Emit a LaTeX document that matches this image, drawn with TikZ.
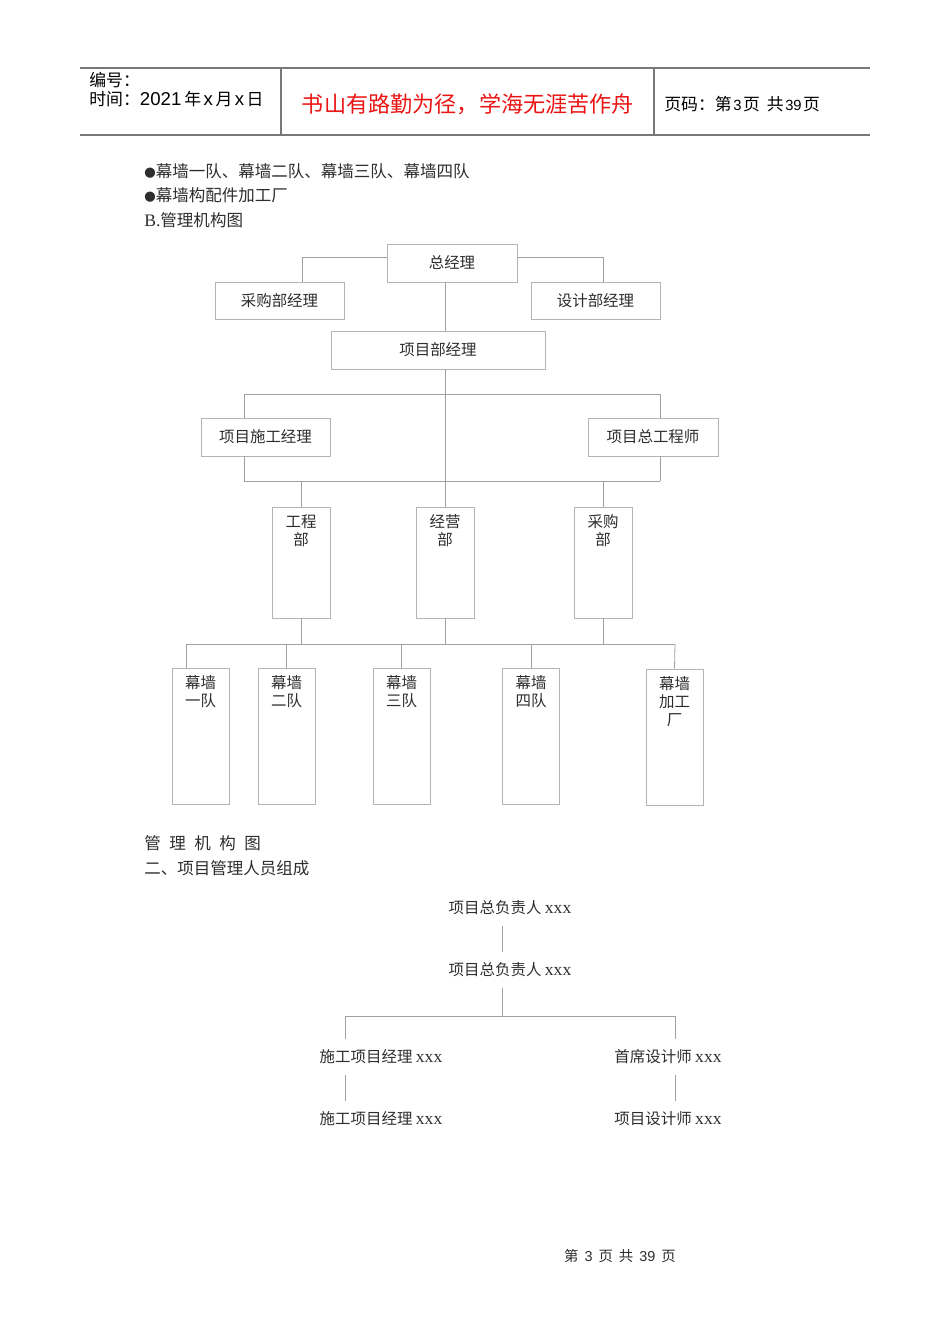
\documentclass[tikz,border=0pt]{standalone}
\usepackage{fontspec}
\setmainfont{Noto Sans CJK SC}
\newfontfamily\latserif{Liberation Serif}
\newfontfamily\latsans{Liberation Sans}
\definecolor{boxgray}{RGB}{180,180,180}
\definecolor{linegray}{RGB}{160,160,160}
\definecolor{rulegray}{RGB}{120,120,120}
\definecolor{txtgray}{RGB}{45,45,45}
\definecolor{mottored}{RGB}{235,20,20}
\newcommand{\blt}{{\fontsize{6.5}{7}\selectfont ●}}
\usetikzlibrary{positioning}

\begin{document}
\begin{tikzpicture}[x=0.02cm,y=-0.02cm,
  box/.style={draw=boxgray,line width=0.45pt,align=center,inner sep=0pt,
              text=txtgray,font=\fontsize{8.8}{10.4}\selectfont},
  tallbox/.style={box,minimum width=1.16cm,minimum height=2.22cm},
  teambox/.style={box,minimum width=1.14cm,minimum height=2.72cm},
  toplbl/.style={anchor=north,inner sep=0pt,yshift=-0.15cm,align=center,
                 text=txtgray,font=\fontsize{8.8}{10.2}\selectfont},
  link/.style={draw=linegray,line width=0.45pt},
  plain/.style={inner sep=0pt,outer sep=0.22cm,text=txtgray,
                font=\fontsize{8.8}{10}\selectfont},
  bodytxt/.style={anchor=west,inner sep=0pt,text=txtgray,
                  font=\fontsize{9.4}{11}\selectfont},
  headtxt/.style={anchor=west,inner sep=0pt,font=\fontsize{9.6}{11}\selectfont}]
  \useasboundingbox (0,0) rectangle (950,1344);
  %% Header
  \draw[rulegray,line width=0.6pt] (80,68) -- (870,68);
  \draw[rulegray,line width=1.4pt] (80,135) -- (870,135);
  \draw[rulegray,line width=0.6pt] (281,68) -- (281,135);
  \draw[rulegray,line width=0.6pt] (654,68) -- (654,135);
  \node[headtxt] (hno) at (89,80) {编号：};
  \node[headtxt] (htime) at (89,99)
        {时间：{\latsans\fontsize{10.6}{11}\selectfont 2021\hspace{0.06cm}}年%
         {\latsans\fontsize{10.6}{11}\selectfont\hspace{0.05cm}x\hspace{0.05cm}}月%
         {\latsans\fontsize{10.6}{11}\selectfont\hspace{0.05cm}x\hspace{0.05cm}}日};
  \node[inner sep=0pt,text=mottored,font=\fontsize{12.6}{14}\selectfont]
        (motto) at (468,104) {书山有路勤为径，学海无涯苦作舟};
  \node[headtxt] (hpage) at (664,104)
        {页码：第{\latsans\fontsize{8.4}{9}\selectfont\hspace{0.03cm}3\hspace{0.03cm}}页\hspace{0.14cm}共{\latsans\fontsize{8.4}{9}\selectfont\hspace{0.03cm}39\hspace{0.03cm}}页};
  %% Body text
  \node[bodytxt] (bul1) at (144,171) {\blt 幕墙一队、幕墙二队、幕墙三队、幕墙四队};
  \node[bodytxt] (bul2) at (144,195) {\blt 幕墙构配件加工厂};
  \node[bodytxt] (secb) at (144,220) {{\latserif\fontsize{10}{11}\selectfont B.}管理机构图};
  %% Management chart
  \coordinate (axis) at (445,0);
  \node[box,minimum width=2.6cm,minimum height=0.76cm] (gm) at (452,263) {总经理};
  \node[box,minimum width=2.58cm,minimum height=0.74cm] (cgm) at (279.5,300.5) {采购部经理};
  \node[box,minimum width=2.58cm,minimum height=0.74cm] (dgm) at (595.5,300.5) {设计部经理};
  \node[box,minimum width=4.28cm,minimum height=0.76cm] (pm) at (438,350) {项目部经理};
  \node[box,minimum width=2.58cm,minimum height=0.76cm] (pcm) at (265.5,437) {项目施工经理};
  \node[box,minimum width=2.6cm,minimum height=0.76cm] (pce) at (653,437) {项目总工程师};
  \node[tallbox,label={[toplbl]north:{工程\\部}}] (eng) at (301,562.5) {};
  \node[tallbox,label={[toplbl]north:{经营\\部}}] (biz) at (445,562.5) {};
  \node[tallbox,label={[toplbl]north:{采购\\部}}] (pur) at (603,562.5) {};
  \node[teambox,label={[toplbl]north:{幕墙\\一队}}] (t1) at (200.5,736) {};
  \node[teambox,label={[toplbl]north:{幕墙\\二队}}] (t2) at (286.5,736) {};
  \node[teambox,label={[toplbl]north:{幕墙\\三队}}] (t3) at (401.5,736) {};
  \node[teambox,label={[toplbl]north:{幕墙\\四队}}] (t4) at (531,736) {};
  \node[teambox,label={[toplbl]north:{幕墙\\加工\\厂}}] (t5) at (674.5,737) {};
  \draw[link] ([yshift=0.12cm]gm.west) -| ([xshift=0.45cm]cgm.north);
  \draw[link] ([yshift=0.12cm]gm.east) -| ([xshift=0.15cm]dgm.north);
  \draw[link] (gm.south -| axis) -- (pm.north -| axis);
  \draw[link] (pm.south -| axis) -- (biz.north);
  %% Buses
  \coordinate (busAl) at (244,394);
  \coordinate (busAr) at (660,394);
  \coordinate (busBl) at (244,481);
  \coordinate (busBr) at (660,481);
  \coordinate (busCl) at (186,644);
  \coordinate (busCr) at (675,644);
  \draw[link] (busAl) -- (busAr);
  \draw[link] (busAl) -- (busAl |- pcm.north);
  \draw[link] (busAr) -- (busAr |- pce.north);
  \draw[link] (busBl) -- (busBr);
  \draw[link] (busBl) -- (busBl |- pcm.south);
  \draw[link] (busBr) -- (busBr |- pce.south);
  \draw[link] (eng.north |- busBl) -- (eng.north);
  \draw[link] (pur.north |- busBr) -- (pur.north);
  \draw[link] (busCl) -- (busCr);
  \draw[link] (eng.south) -- (eng.south |- busCl);
  \draw[link] (biz.south) -- (biz.south |- busCl);
  \draw[link] (pur.south) -- (pur.south |- busCl);
  \draw[link] (busCl) -- (busCl |- t1.north);
  \draw[link] (t2.north |- busCl) -- (t2.north);
  \draw[link] (t3.north |- busCl) -- (t3.north);
  \draw[link] (t4.north |- busCl) -- (t4.north);
  \draw[link] (busCr) -- (t5.north);
  %% Section two
  \node[bodytxt] (cap) at (144,843)
        {管\hspace{0.17cm}理\hspace{0.17cm}机\hspace{0.17cm}构\hspace{0.17cm}图};
  \node[bodytxt] (sec2) at (144,868) {二、项目管理人员组成};
  \coordinate (axisB) at (502,1016);
  \coordinate (busDl) at (345,1016);
  \coordinate (busDr) at (675,1016);
  \node[plain] (r1) at (510,908) {项目总负责人 {\latserif\fontsize{10}{10}\selectfont xxx}};
  \node[plain] (r2) at (510,970) {项目总负责人 {\latserif\fontsize{10}{10}\selectfont xxx}};
  \node[plain] (s1) at (381,1057) {施工项目经理 {\latserif\fontsize{10}{10}\selectfont xxx}};
  \node[plain] (s2) at (381,1119) {施工项目经理 {\latserif\fontsize{10}{10}\selectfont xxx}};
  \node[plain] (d1) at (668,1057) {首席设计师 {\latserif\fontsize{10}{10}\selectfont xxx}};
  \node[plain] (d2) at (668,1119) {项目设计师 {\latserif\fontsize{10}{10}\selectfont xxx}};
  \draw[link] (r1.south -| axisB) -- (r2.north -| axisB);
  \draw[link] (r2.south -| axisB) -- (axisB);
  \draw[link] (busDl) -- (busDr);
  \draw[link] (busDl) -- (busDl |- s1.north);
  \draw[link] (busDr) -- (busDr |- d1.north);
  \draw[link] (s1.south -| busDl) -- (s2.north -| busDl);
  \draw[link] (d1.south -| busDr) -- (d2.north -| busDr);
  %% Footer
  \node[inner sep=0pt,text=txtgray,font=\fontsize{8.2}{9}\selectfont] (foot) at (620,1256)
        {第\hspace{0.12cm}{\latsans 3}\hspace{0.12cm}页\hspace{0.12cm}共\hspace{0.12cm}{\latsans 39}\hspace{0.12cm}页};
\end{tikzpicture}
\end{document}
